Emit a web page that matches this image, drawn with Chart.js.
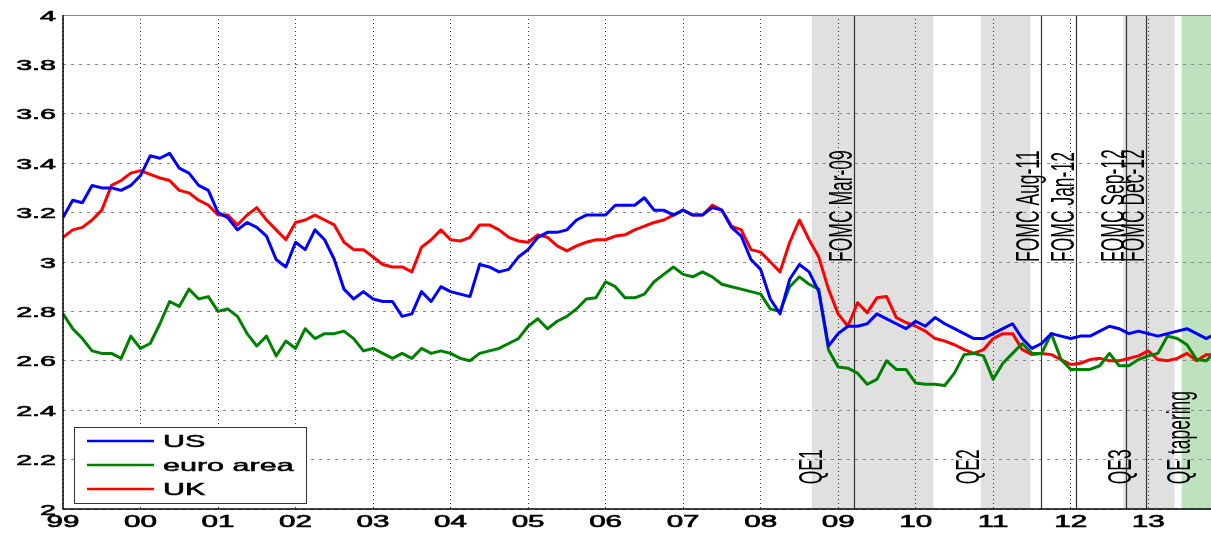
<!DOCTYPE html>
<html>
<head>
<meta charset="utf-8">
<script src="https://cdn.jsdelivr.net/npm/chart.js@4.4.1/dist/chart.umd.min.js"></script>
<style>
  html, body { margin: 0; padding: 0; background: #fff; }
  #wrap { width: 1211px; height: 534px; }
</style>
</head>
<body>
<div id="wrap"><canvas id="chart" width="1211" height="534"></canvas></div>
<script>
// sample dates (decimal years), read every 1/8 year off the reference
const years = [
  1999.000, 1999.125, 1999.250, 1999.375, 1999.500, 1999.625, 1999.750, 1999.875,
  2000.000, 2000.125, 2000.250, 2000.375, 2000.500, 2000.625, 2000.750, 2000.875,
  2001.000, 2001.125, 2001.250, 2001.375, 2001.500, 2001.625, 2001.750, 2001.875,
  2002.000, 2002.125, 2002.250, 2002.375, 2002.500, 2002.625, 2002.750, 2002.875,
  2003.000, 2003.125, 2003.250, 2003.375, 2003.500, 2003.625, 2003.750, 2003.875,
  2004.000, 2004.125, 2004.250, 2004.375, 2004.500, 2004.625, 2004.750, 2004.875,
  2005.000, 2005.125, 2005.250, 2005.375, 2005.500, 2005.625, 2005.750, 2005.875,
  2006.000, 2006.125, 2006.250, 2006.375, 2006.500, 2006.625, 2006.750, 2006.875,
  2007.000, 2007.125, 2007.250, 2007.375, 2007.500, 2007.625, 2007.750, 2007.875,
  2008.000, 2008.125, 2008.250, 2008.375, 2008.500, 2008.625, 2008.750, 2008.875,
  2009.000, 2009.125, 2009.250, 2009.375, 2009.500, 2009.625, 2009.750, 2009.875,
  2010.000, 2010.125, 2010.250, 2010.375, 2010.500, 2010.625, 2010.750, 2010.875,
  2011.000, 2011.125, 2011.250, 2011.375, 2011.500, 2011.625, 2011.750, 2011.875,
  2012.000, 2012.125, 2012.250, 2012.375, 2012.500, 2012.625, 2012.750, 2012.875,
  2013.000, 2013.125, 2013.250, 2013.375, 2013.500, 2013.625, 2013.750, 2013.810
];

const us = [
  3.18, 3.25, 3.24, 3.31, 3.30, 3.30, 3.29, 3.31,
  3.35, 3.43, 3.42, 3.44, 3.38, 3.36, 3.31, 3.29,
  3.20, 3.18, 3.13, 3.16, 3.14, 3.105, 3.01, 2.98,
  3.08, 3.05, 3.13, 3.09, 3.01, 2.89, 2.85, 2.88,
  2.85, 2.84, 2.84, 2.78, 2.79, 2.88, 2.84, 2.90,
  2.88, 2.87, 2.86, 2.99, 2.98, 2.96, 2.97, 3.02,
  3.05, 3.10, 3.12, 3.12, 3.13, 3.17, 3.19, 3.19,
  3.19, 3.23, 3.23, 3.23, 3.26, 3.21, 3.21, 3.19,
  3.21, 3.19, 3.19, 3.22, 3.21, 3.14, 3.105, 3.01,
  2.97, 2.85, 2.79, 2.93, 2.99, 2.96, 2.88, 2.66,
  2.71, 2.74, 2.74, 2.75, 2.79, 2.77, 2.75, 2.73,
  2.76, 2.74, 2.775, 2.75, 2.73, 2.71, 2.69, 2.69,
  2.71, 2.73, 2.75, 2.69, 2.65, 2.67, 2.71, 2.70,
  2.69, 2.70, 2.70, 2.72, 2.74, 2.73, 2.71, 2.72,
  2.71, 2.70, 2.71, 2.72, 2.73, 2.71, 2.69, 2.70
];

const euroArea = [
  2.79, 2.73, 2.69, 2.64, 2.63, 2.63, 2.61, 2.70,
  2.65, 2.67, 2.75, 2.84, 2.82, 2.89, 2.85, 2.86,
  2.80, 2.81, 2.78, 2.71, 2.66, 2.70, 2.62, 2.68,
  2.65, 2.73, 2.69, 2.71, 2.71, 2.72, 2.69, 2.64,
  2.65, 2.63, 2.61, 2.63, 2.61, 2.65, 2.63, 2.64,
  2.63, 2.61, 2.60, 2.63, 2.64, 2.65, 2.67, 2.69,
  2.74, 2.77, 2.73, 2.76, 2.78, 2.81, 2.85, 2.855,
  2.92, 2.90, 2.855, 2.855, 2.87, 2.92, 2.95, 2.98,
  2.95, 2.94, 2.96, 2.94, 2.91, 2.90, 2.89, 2.88,
  2.87, 2.81, 2.80, 2.90, 2.94, 2.91, 2.89, 2.645,
  2.575, 2.57, 2.55, 2.505, 2.525, 2.60, 2.565, 2.565,
  2.51, 2.505, 2.505, 2.50, 2.55, 2.625, 2.63, 2.62,
  2.525, 2.59, 2.63, 2.67, 2.63, 2.63, 2.71, 2.605,
  2.565, 2.565, 2.565, 2.58, 2.63, 2.58, 2.58, 2.605,
  2.62, 2.63, 2.70, 2.69, 2.665, 2.605, 2.60, 2.62
];

const uk = [
  3.10, 3.13, 3.14, 3.17, 3.21, 3.31, 3.33, 3.36,
  3.37, 3.355, 3.34, 3.33, 3.29, 3.28, 3.25, 3.23,
  3.19, 3.19, 3.15, 3.19, 3.22, 3.17, 3.13, 3.09,
  3.16, 3.17, 3.19, 3.17, 3.15, 3.08, 3.05, 3.05,
  3.02, 2.99, 2.98, 2.98, 2.96, 3.06, 3.09, 3.13,
  3.09, 3.085, 3.10, 3.15, 3.15, 3.13, 3.10, 3.085,
  3.08, 3.11, 3.10, 3.065, 3.045, 3.065, 3.08, 3.09,
  3.09, 3.105, 3.11, 3.13, 3.145, 3.16, 3.17, 3.19,
  3.21, 3.19, 3.19, 3.23, 3.21, 3.145, 3.13, 3.05,
  3.04, 3.00, 2.96, 3.08, 3.17, 3.09, 3.02, 2.89,
  2.79, 2.74, 2.835, 2.795, 2.855, 2.86, 2.775, 2.755,
  2.74, 2.72, 2.69, 2.68, 2.665, 2.645, 2.63, 2.645,
  2.69, 2.71, 2.71, 2.645, 2.625, 2.63, 2.625, 2.605,
  2.585, 2.59, 2.605, 2.61, 2.60, 2.60, 2.61, 2.62,
  2.64, 2.605, 2.60, 2.61, 2.63, 2.60, 2.625, 2.625
];

const xTickYears = [1999, 2000, 2001, 2002, 2003, 2004, 2005, 2006, 2007, 2008, 2009, 2010, 2011, 2012, 2013];
const xTickLabels = ["99", "00", "01", "02", "03", "04", "05", "06", "07", "08", "09", "10", "11", "12", "13"];
const yTickValues = [2, 2.2, 2.4, 2.6, 2.8, 3, 3.2, 3.4, 3.6, 3.8, 4];
const yTickLabels = ["2", "2.2", "2.4", "2.6", "2.8", "3", "3.2", "3.4", "3.6", "3.8", "4"];

// grey bands = QE programmes, green band = tapering
const qeStart = [2008.66, 2010.84, 2012.68];
const qeEnd = [2010.23, 2011.48, 2013.34];
const qeNames = ["QE1", "QE2", "QE3"];
const qeLabelAt = [2008.90, 2010.92, 2012.88];
const taperStart = 2013.43;
const taperLabelAt = 2013.46;

const fomcNames = ["FOMC Mar-09", "FOMC Aug-11", "FOMC Jan-12", "FOMC Sep-12", "FOMC Dec-12"];
const fomcDates = [2009.20, 2011.62, 2012.07, 2012.71, 2012.97];

const X_MIN = 1999, X_MAX = 2013.81;
const SX = 1.85; // text in the reference is stretched sideways

function stretchText(ctx, text, x, y, size, align, vertical, heavy) {
  ctx.save();
  ctx.translate(x, y);
  ctx.scale(SX, 1);
  if (vertical) ctx.rotate(-Math.PI / 2);
  ctx.font = size + 'px "Liberation Sans", Arial, sans-serif';
  ctx.textAlign = align;
  ctx.textBaseline = "alphabetic";
  ctx.fillStyle = "#000";
  ctx.fillText(text, 0, 0);
  if (heavy) {
    ctx.strokeStyle = "#000";
    ctx.lineWidth = heavy;
    ctx.strokeText(text, 0, 0);
  }
  ctx.restore();
}

const bandsPlugin = {
  id: "bands",
  beforeDraw(chart) {
    const { ctx, chartArea: a, scales: { x } } = chart;
    ctx.save();
    ctx.fillStyle = "#fff";
    ctx.fillRect(0, 0, chart.width, chart.height);
    ctx.fillStyle = "#e0e0e0";
    qeStart.forEach((s, i) => {
      const x0 = x.getPixelForValue(s), x1 = x.getPixelForValue(qeEnd[i]);
      ctx.fillRect(x0, a.top, x1 - x0, a.bottom - a.top);
    });
    ctx.fillStyle = "#bde2bd";
    const t0 = x.getPixelForValue(taperStart);
    ctx.fillRect(t0, a.top, a.right - t0, a.bottom - a.top);
    ctx.restore();
  },
  beforeDatasetsDraw(chart) {
    const { ctx, chartArea: a, scales: { x, y } } = chart;
    ctx.save();
    ctx.strokeStyle = "#333";
    ctx.lineWidth = 1.2;
    fomcDates.forEach((d) => {
      const px = Math.round(x.getPixelForValue(d)) + 0.5;
      ctx.beginPath();
      ctx.moveTo(px, a.top);
      ctx.lineTo(px, a.bottom);
      ctx.stroke();
    });
    ctx.restore();
    fomcNames.forEach((n, i) => {
      stretchText(ctx, n, x.getPixelForValue(fomcDates[i]) - 2, y.getPixelForValue(3.0), 17.5, "left", true, 0);
    });
    qeNames.forEach((n, i) => {
      stretchText(ctx, n, x.getPixelForValue(qeLabelAt[i]) - 8, y.getPixelForValue(2.1), 17.5, "left", true, 0);
    });
    stretchText(ctx, "QE tapering", x.getPixelForValue(taperLabelAt) + 6, y.getPixelForValue(2.1), 17.5, "left", true, 0);
  },
  afterDraw(chart) {
    const { ctx, chartArea: a, scales: { x, y } } = chart;
    ctx.save();
    // frame
    ctx.strokeStyle = "#888";
    ctx.lineWidth = 1;
    ctx.beginPath();
    ctx.moveTo(a.left, a.top + 0.5);
    ctx.lineTo(a.right, a.top + 0.5);
    ctx.stroke();
    ctx.strokeStyle = "#000";
    ctx.lineWidth = 1.5;
    ctx.beginPath();
    ctx.moveTo(a.left, a.top);
    ctx.lineTo(a.left, a.bottom);
    ctx.lineTo(a.right, a.bottom);
    ctx.stroke();
    ctx.restore();

    // tick labels
    yTickValues.forEach((v, i) => {
      stretchText(ctx, yTickLabels[i], 56, y.getPixelForValue(v) + 5.5, 15.5, "right", false, 0.6);
    });
    xTickYears.forEach((t, i) => {
      stretchText(ctx, xTickLabels[i], x.getPixelForValue(t), 527, 16, "center", false, 0.6);
    });

    // legend box
    const lx = 74, ly = 427, lw = 232, lh = 76;
    ctx.save();
    ctx.fillStyle = "#fff";
    ctx.fillRect(lx, ly, lw, lh);
    ctx.strokeStyle = "#333";
    ctx.lineWidth = 1;
    ctx.strokeRect(lx + 0.5, ly + 0.5, lw, lh);
    chart.data.datasets.forEach((ds, i) => {
      const cy = 441 + i * 24;
      ctx.strokeStyle = ds.borderColor;
      ctx.lineWidth = 2.5;
      ctx.beginPath();
      ctx.moveTo(87, cy);
      ctx.lineTo(154, cy);
      ctx.stroke();
      stretchText(ctx, ds.label, 163, cy + 6, 16.5, "left", false, 0.5);
    });
    ctx.restore();
  }
};

function series(values) {
  return years.map((t, i) => ({ x: t, y: values[i] }));
}

new Chart(document.getElementById("chart"), {
  type: "line",
  data: {
    datasets: [
      { label: "US", data: series(us), borderColor: "#0000ff" },
      { label: "euro area", data: series(euroArea), borderColor: "#008000" },
      { label: "UK", data: series(uk), borderColor: "#ff0000" }
    ]
  },
  options: {
    responsive: false,
    animation: false,
    devicePixelRatio: 1,
    layout: { padding: { left: 63, top: 15, right: 0, bottom: 25 } },
    elements: {
      line: { borderWidth: 3, tension: 0, borderJoinStyle: "round" },
      point: { radius: 0 }
    },
    plugins: { legend: { display: false }, tooltip: { enabled: false } },
    scales: {
      x: {
        type: "linear",
        min: X_MIN,
        max: X_MAX,
        afterBuildTicks: (s) => { s.ticks = xTickYears.map((v) => ({ value: v })); },
        ticks: { display: false },
        grid: { color: "#333", lineWidth: 1, drawTicks: false },
        border: { display: false, dash: [1, 3] }
      },
      y: {
        min: 2,
        max: 4,
        afterBuildTicks: (s) => { s.ticks = yTickValues.map((v) => ({ value: v })); },
        ticks: { display: false },
        grid: { color: "#888", lineWidth: 1, drawTicks: false },
        border: { display: false, dash: [3, 5] }
      }
    }
  },
  plugins: [bandsPlugin]
});
</script>
</body>
</html>
